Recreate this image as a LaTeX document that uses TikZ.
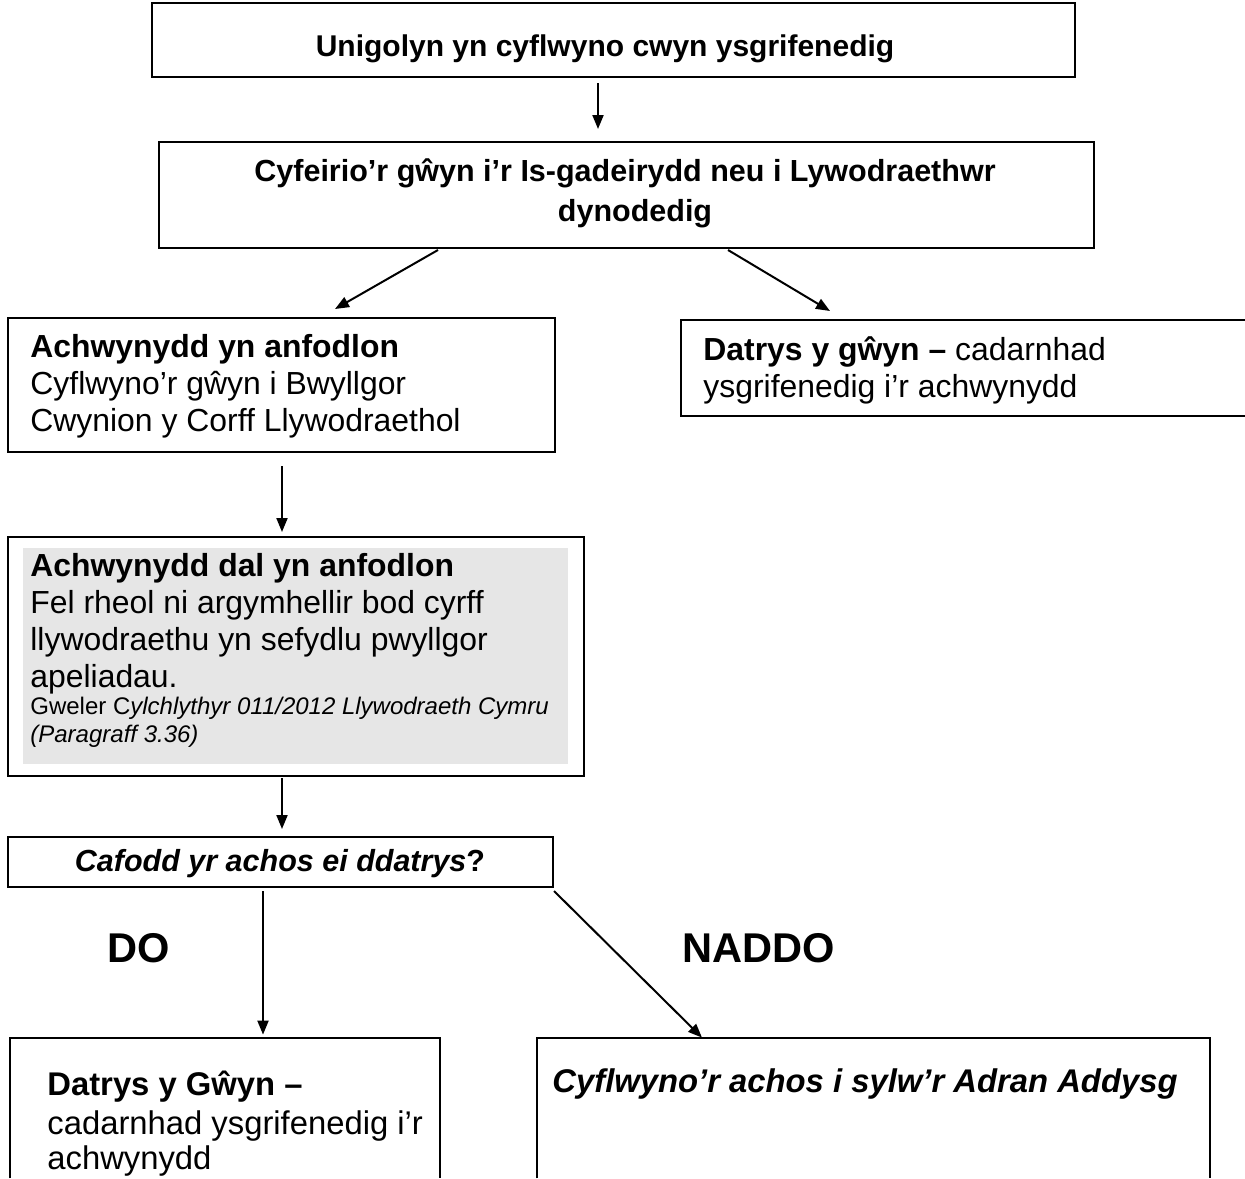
\documentclass[tikz,border=0pt]{standalone}
\usepackage{fontspec}
\setmainfont{Liberation Sans}
\usetikzlibrary{fit,calc,arrows.meta}
\definecolor{panelgrey}{RGB}{230,230,230}
\begin{document}
\begin{tikzpicture}[x=0.5pt,y=-0.5pt,
  box/.style={draw=black,line width=1pt,inner sep=0pt,rectangle},
  frame/.style={inner sep=0pt,rectangle},
  txt/.style={inner sep=0pt,anchor=base west,font=\fontsize{15.95}{18.5}\selectfont},
  lowtxt/.style={inner sep=0pt,anchor=base west,font=\fontsize{16.4}{19}\selectfont},
  ctxt/.style={inner sep=0pt,anchor=base,font=\fontsize{15.25}{18.5}\selectfont\bfseries},
  small/.style={inner sep=0pt,anchor=base west,font=\fontsize{12}{14}\selectfont},
  big/.style={inner sep=0pt,anchor=base west,font=\fontsize{20.8}{24}\selectfont\bfseries},
  arr/.style={line width=1pt,-{Triangle[length=7pt,width=5.5pt]}}]
\useasboundingbox (0,0) rectangle (1245,1178);
\clip (0,0) rectangle (1245,1178);

% boxes
\node[box,fit={(152,3) (1075,77)}] (b1) {};
\node[box,fit={(159,142) (1094,248)}] (b2) {};
\node[box,fit={(8,318) (555,452)}] (b3) {};
\node[box,fit={(681,320) (1252,416)}] (b4) {};
\node[box,fit={(8,537) (584,776)}] (b5) {};
\fill[panelgrey] (23,548) rectangle (568,764);
\node[box,fit={(8,837) (553,887)}] (b6) {};
\node[frame,fit={(10,1038) (440,1178)}] (b7) {};
\node[frame,fit={(537,1038) (1210,1178)}] (b8) {};
\draw[line width=1pt] (b7.south west) -- (b7.north west) -- (b7.north east) -- (b7.south east);
\draw[line width=1pt] (b8.south west) -- (b8.north west) -- (b8.north east) -- (b8.south east);

% texts
\node[ctxt,font=\fontsize{15}{18.5}\selectfont\bfseries] (t1) at (605,56) {Unigolyn yn cyflwyno cwyn ysgrifenedig};
\node[ctxt] (t2a) at (625,181) {Cyfeirio’r gŵyn i’r Is-gadeirydd neu i Lywodraethwr};
\node[ctxt] (t2b) at (635,221) {dynodedig};

\node[txt] (t3a) at (30,357) {\textbf{Achwynydd yn anfodlon}};
\node[txt] (t3b) at (30,394) {Cyflwyno’r gŵyn i Bwyllgor};
\node[txt] (t3c) at (30,431) {Cwynion y Corff Llywodraethol};

\node[txt] (t4a) at (703,360) {\textbf{Datrys y gŵyn –} cadarnhad};
\node[txt] (t4b) at (703,397) {ysgrifenedig i’r achwynydd};

\node[txt] (t5a) at (30,576) {\textbf{Achwynydd dal yn anfodlon}};
\node[txt] (t5b) at (30,613) {Fel rheol ni argymhellir bod cyrff};
\node[txt] (t5c) at (30,650) {llywodraethu yn sefydlu pwyllgor};
\node[txt] (t5d) at (30,687) {apeliadau.};
\node[small] (t5e) at (30,714) {Gweler C\textit{ylchlythyr 011/2012 Llywodraeth Cymru}};
\node[small] (t5f) at (30,742) {\textit{(Paragraff 3.36)}};

\node[ctxt] (t6) at (280,871) {\textit{Cafodd yr achos ei ddatrys}?};

\node[big] (do) at (107,962) {DO};
\node[big] (naddo) at (682,962) {NADDO};

\node[lowtxt] (t7a) at (47,1095) {\textbf{Datrys y Gŵyn –}};
\node[lowtxt] (t7b) at (47,1134) {cadarnhad ysgrifenedig i’r};
\node[lowtxt] (t7c) at (47,1169) {achwynydd};

\node[lowtxt] (t8) at (552,1092) {\textbf{\textit{Cyflwyno’r achos i sylw’r Adran Addysg}}};

% connectors
\draw[arr] ($(b1.south)+(-15.5,5)$) -- ($(b2.north)+(-28.5,-12)$);
\draw[arr] ($(b2.south)+(-188.5,1)$) -- ($(b3.north)+(53.5,-8)$);
\draw[arr] ($(b2.south)+(101.5,1)$) -- ($(b4.north)+(-136.5,-8)$);
\draw[arr] ($(b3.south)+(0.5,13)$) -- ($(b5.north)+(-14,-4)$);
\draw[arr] ($(b5.south)+(-14,1)$) -- ($(b6.north)+(1.5,-7)$);
\draw[arr] ($(b6.south)+(-17.5,3)$) -- ($(b7.north)+(38,-3)$);
\draw[arr] (b6.south east) ++(0,3) -- ($(b8.north)+(-171.5,0)$);
\end{tikzpicture}
\end{document}
